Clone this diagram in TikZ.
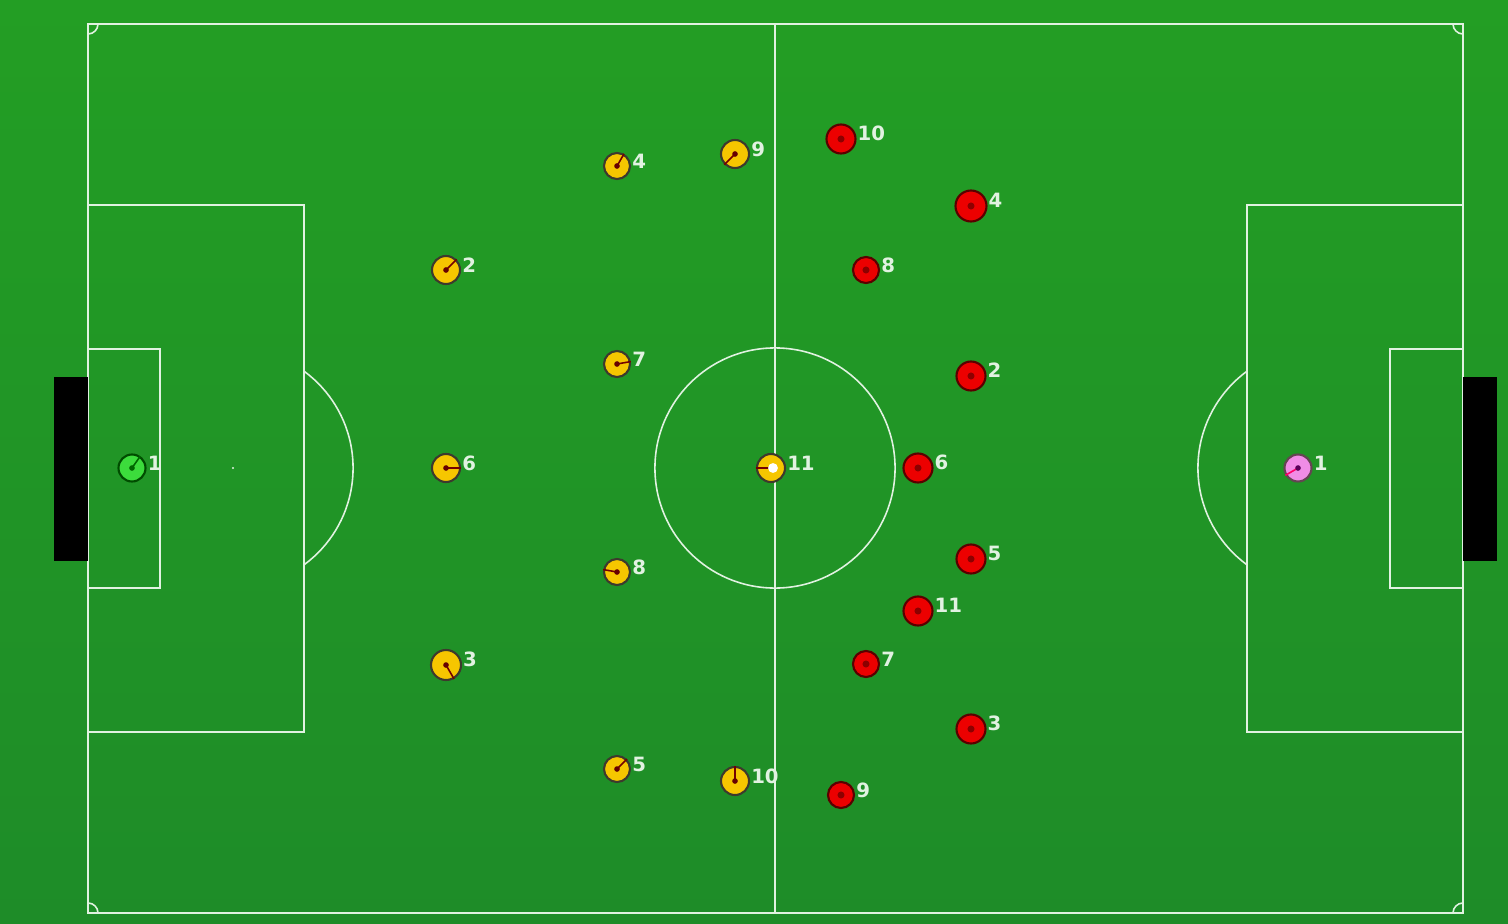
\documentclass[tikz,border=0pt]{standalone}
\usepackage{fontspec}
\setsansfont{DejaVu Sans}
\definecolor{pitchtop}{RGB}{35,158,36}
\definecolor{pitchbot}{RGB}{30,140,40}
\definecolor{lineclr}{RGB}{225,242,225}
\definecolor{gold}{RGB}{246,198,0}
\definecolor{redteam}{RGB}{236,0,0}
\definecolor{keepgreen}{RGB}{60,220,60}
\definecolor{keeppink}{RGB}{240,140,230}
\begin{document}
\begin{tikzpicture}[x=0.01cm,y=-0.01cm,
  pitch/.style={draw=lineclr,line width=0.45pt},
  lbl/.style={text=lineclr,font=\sffamily\bfseries\fontsize{5.6}{6}\selectfont,inner sep=0.4pt,anchor=west},
  player/.style={circle,draw=black!75!olive,line width=0.6pt,inner sep=0pt,minimum size=#1},
  player/.default=0.26cm,
  yel/.style={player=#1,fill=gold},
  yel/.default=0.26cm,
  red/.style={player=#1,fill=redteam,draw=red!35!black},
  red/.default=0.29cm,
  dir/.style={draw=red!45!black,line width=0.45pt},
  dot/.style={fill=red!40!black}]

\shade[top color=pitchtop,bottom color=pitchbot] (0,0) rectangle (1508,924);
\useasboundingbox (0,0) rectangle (1508,924);

% pitch lines
\draw[pitch] (88,24) rectangle (1463,913);
\draw[pitch] (775,24) -- (775,913);
\draw[pitch] (775,468) circle[radius=1.2cm];
\draw[pitch] (88,205) rectangle (304,732);
\draw[pitch] (88,349) rectangle (160,588);
\draw[pitch] (1247,205) rectangle (1463,732);
\draw[pitch] (1390,349) rectangle (1463,588);
\fill[lineclr] (233,468) circle[radius=0.3pt];
\begin{scope}
\clip (304,0) rectangle (420,924);
\draw[pitch] (233,468) circle[radius=1.2cm];
\end{scope}
\begin{scope}
\clip (1130,0) rectangle (1247,924);
\draw[pitch] (1318,468) circle[radius=1.2cm];
\end{scope}
\begin{scope}
\clip (88,24) rectangle (1463,913);
\draw[pitch] (88,24) circle[radius=0.1cm];
\draw[pitch] (1463,24) circle[radius=0.1cm];
\draw[pitch] (88,913) circle[radius=0.1cm];
\draw[pitch] (1463,913) circle[radius=0.1cm];
\end{scope}

% goals
\fill[black] (54,377) rectangle (88,561);
\fill[black] (1463,377) rectangle (1497,561);

% keepers
\node[player=0.27cm,fill=keepgreen,draw=black!70!green] (g1) at (132,468) [label={[lbl]20:1}] {};
\draw[dir,draw=black!60!green] (g1.center) -- (g1.55);
\fill[black!60!green] (g1.center) circle[radius=0.8pt];
\node[player=0.27cm,fill=keeppink,draw=black!70!magenta] (p1) at (1298,468) [label={[lbl]20:1}] {};
\draw[dir,draw=red!60!magenta] (p1.center) -- (p1.210);
\fill[violet!70!black] (p1.center) circle[radius=0.8pt];

% yellow team
\node[yel] (y4) at (617,166) [label={[lbl]20:4}] {};
\node[yel=0.28cm] (y9) at (735,154) [label={[lbl]20:9}] {};
\node[yel=0.28cm] (y2) at (446,270) [label={[lbl]20:2}] {};
\node[yel] (y7) at (617,364) [label={[lbl]20:7}] {};
\node[yel=0.28cm] (y6) at (446,468) [label={[lbl]20:6}] {};
\node[yel] (y8) at (617,572) [label={[lbl]20:8}] {};
\node[yel=0.3cm] (y3) at (446,665) [label={[lbl]20:3}] {};
\node[yel] (y5) at (617,769) [label={[lbl]20:5}] {};
\node[yel=0.28cm] (y10) at (735,781) [label={[lbl]20:10}] {};
\node[yel=0.28cm] (y11) at (771,468) [label={[lbl]20:11}] {};

\draw[dir] (y4.center) -- (y4.60);
\draw[dir] (y9.center) -- (y9.225);
\draw[dir] (y2.center) -- (y2.45);
\draw[dir] (y7.center) -- (y7.10);
\draw[dir] (y6.center) -- (y6.0);
\draw[dir] (y8.center) -- (y8.170);
\draw[dir] (y3.center) -- (y3.-60);
\draw[dir] (y5.center) -- (y5.45);
\draw[dir] (y10.center) -- (y10.90);
\draw[dir] (y11.center) -- (y11.180);
\fill[dot] (y4.center) circle[radius=0.8pt];
\fill[dot] (y9.center) circle[radius=0.8pt];
\fill[dot] (y2.center) circle[radius=0.8pt];
\fill[dot] (y7.center) circle[radius=0.8pt];
\fill[dot] (y6.center) circle[radius=0.8pt];
\fill[dot] (y8.center) circle[radius=0.8pt];
\fill[dot] (y3.center) circle[radius=0.8pt];
\fill[dot] (y5.center) circle[radius=0.8pt];
\fill[dot] (y10.center) circle[radius=0.8pt];

% ball
\fill[white] (773,468) circle[radius=1.4pt];

% red team
\node[red] (r10) at (841,139) [label={[lbl]20:10}] {};
\node[red=0.31cm] (r4) at (971,206) [label={[lbl]20:4}] {};
\node[red=0.26cm] (r8) at (866,270) [label={[lbl]20:8}] {};
\node[red] (r2) at (971,376) [label={[lbl]20:2}] {};
\node[red] (r6) at (918,468) [label={[lbl]20:6}] {};
\node[red] (r5) at (971,559) [label={[lbl]20:5}] {};
\node[red] (r11) at (918,611) [label={[lbl]20:11}] {};
\node[red=0.26cm] (r7) at (866,664) [label={[lbl]20:7}] {};
\node[red] (r3) at (971,729) [label={[lbl]20:3}] {};
\node[red=0.26cm] (r9) at (841,795) [label={[lbl]20:9}] {};

\fill[red!55!black] (r10.center) circle[radius=1pt];
\fill[red!55!black] (r4.center) circle[radius=1pt];
\fill[red!55!black] (r8.center) circle[radius=1pt];
\fill[red!55!black] (r2.center) circle[radius=1pt];
\fill[red!55!black] (r6.center) circle[radius=1pt];
\fill[red!55!black] (r5.center) circle[radius=1pt];
\fill[red!55!black] (r11.center) circle[radius=1pt];
\fill[red!55!black] (r7.center) circle[radius=1pt];
\fill[red!55!black] (r3.center) circle[radius=1pt];
\fill[red!55!black] (r9.center) circle[radius=1pt];
\end{tikzpicture}
\end{document}
